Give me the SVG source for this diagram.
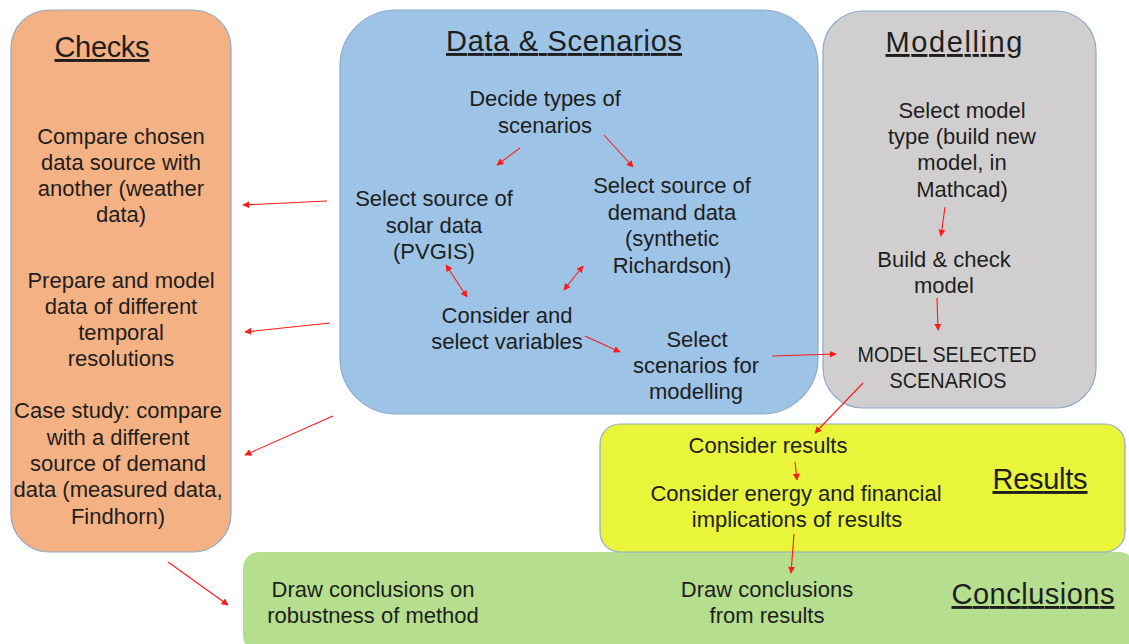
<svg xmlns="http://www.w3.org/2000/svg" width="1129" height="644" viewBox="0 0 1129 644">
  <style>
    .box { stroke: #8eaacb; stroke-width: 1.2; }
    .t { font-family: "Liberation Sans", Arial, sans-serif; font-size: 22px; fill: #1e1e1e; text-anchor: middle; }
    .h { font-family: "Liberation Sans", Arial, sans-serif; font-size: 29px; fill: #1e1e1e; text-anchor: middle; text-decoration: underline; }
    .c { stroke: #ff1a1a; stroke-width: 1.1; fill: none; }
    .c1 { marker-end: url(#ah); }
    .c2 { marker-start: url(#ah); marker-end: url(#ah); }
  </style>
  <defs>
    <marker id="ah" viewBox="0 0 10 10" refX="9" refY="5" markerWidth="7" markerHeight="7" markerUnits="userSpaceOnUse" orient="auto-start-reverse">
      <path d="M0,0 L10,5 L0,10 z" fill="#ff1a1a"/>
    </marker>
  </defs>

  <rect width="1129" height="644" fill="#ffffff"/>

  <!-- Conclusions (drawn first so the Results panel sits over its top edge) -->
  <g id="conclusions">
    <rect x="243" y="552" width="892" height="100" rx="16" fill="#b5de8e"/>
    <text class="h" x="1033" y="604" textLength="163">Conclusions</text>
    <text class="t" x="373" y="597">Draw conclusions on</text>
    <text class="t" x="373" y="623">robustness of method</text>
    <text class="t" x="767" y="597">Draw conclusions</text>
    <text class="t" x="767" y="623">from results</text>
  </g>

  <!-- Checks -->
  <g id="checks">
    <rect class="box" x="11" y="10" width="220" height="542" rx="38" fill="#f4b183"/>
    <text class="h" x="102" y="57" textLength="95">Checks</text>
    <text class="t" x="121" y="144">Compare chosen</text>
    <text class="t" x="121" y="170">data source with</text>
    <text class="t" x="121" y="196">another (weather</text>
    <text class="t" x="121" y="222">data)</text>
    <text class="t" x="121" y="288">Prepare and model</text>
    <text class="t" x="121" y="314">data of different</text>
    <text class="t" x="121" y="340">temporal</text>
    <text class="t" x="121" y="366">resolutions</text>
    <text class="t" x="118" y="418">Case study: compare</text>
    <text class="t" x="118" y="445">with a different</text>
    <text class="t" x="118" y="471">source of demand</text>
    <text class="t" x="118" y="497">data (measured data,</text>
    <text class="t" x="118" y="524">Findhorn)</text>
  </g>

  <!-- Data & Scenarios -->
  <g id="data-scenarios">
    <rect class="box" x="340" y="10" width="478" height="404" rx="56" fill="#9dc3e6"/>
    <text class="h" x="564" y="51" textLength="236">Data &amp; Scenarios</text>
    <text class="t" x="545" y="106">Decide types of</text>
    <text class="t" x="545" y="133">scenarios</text>
    <text class="t" x="434" y="206">Select source of</text>
    <text class="t" x="434" y="233">solar data</text>
    <text class="t" x="434" y="259">(PVGIS)</text>
    <text class="t" x="672" y="193">Select source of</text>
    <text class="t" x="672" y="220">demand data</text>
    <text class="t" x="672" y="246">(synthetic</text>
    <text class="t" x="672" y="273">Richardson)</text>
    <text class="t" x="507" y="323">Consider and</text>
    <text class="t" x="507" y="349">select variables</text>
    <text class="t" x="697" y="347">Select</text>
    <text class="t" x="696" y="373">scenarios for</text>
    <text class="t" x="696" y="399">modelling</text>
  </g>

  <!-- Modelling -->
  <g id="modelling">
    <rect class="box" x="823" y="11" width="273" height="397" rx="40" fill="#d0cece"/>
    <text class="h" x="954" y="52" textLength="137">Modelling</text>
    <text class="t" x="962" y="118">Select model</text>
    <text class="t" x="962" y="144">type (build new</text>
    <text class="t" x="962" y="170">model, in</text>
    <text class="t" x="962" y="197">Mathcad)</text>
    <text class="t" x="944" y="267">Build &amp; check</text>
    <text class="t" x="944" y="293">model</text>
    <text class="t" x="947" y="362" textLength="179" lengthAdjust="spacingAndGlyphs">MODEL SELECTED</text>
    <text class="t" x="948" y="388" textLength="117" lengthAdjust="spacingAndGlyphs">SCENARIOS</text>
  </g>

  <!-- Results -->
  <g id="results">
    <rect class="box" x="600" y="424" width="525" height="128" rx="20" fill="#e9f53a"/>
    <text class="h" x="1040" y="489" textLength="95">Results</text>
    <text class="t" x="768" y="453">Consider results</text>
    <text class="t" x="796" y="501">Consider energy and financial</text>
    <text class="t" x="797" y="527">implications of results</text>
  </g>

  <!-- Connectors -->
  <g id="connectors">
    <line class="c c1" x1="520" y1="148" x2="497" y2="165"/>
    <line class="c c1" x1="604" y1="135" x2="633" y2="167"/>
    <line class="c c2" x1="446" y1="265" x2="467" y2="297"/>
    <line class="c c2" x1="583" y1="266" x2="564" y2="290"/>
    <line class="c c1" x1="585" y1="336" x2="620" y2="352"/>
    <line class="c c1" x1="772" y1="356" x2="836" y2="354"/>
    <line class="c c1" x1="945" y1="207" x2="941" y2="236"/>
    <line class="c c1" x1="937" y1="298" x2="938" y2="330"/>
    <line class="c c1" x1="863" y1="383" x2="815" y2="433"/>
    <line class="c c1" x1="795" y1="462" x2="797" y2="480"/>
    <line class="c c1" x1="794" y1="534" x2="791" y2="573"/>
    <line class="c c1" x1="327" y1="201" x2="243" y2="205"/>
    <line class="c c1" x1="330" y1="323" x2="245" y2="332"/>
    <line class="c c1" x1="333" y1="416" x2="245" y2="455"/>
    <line class="c c1" x1="168" y1="562" x2="228" y2="605"/>
  </g>
</svg>
